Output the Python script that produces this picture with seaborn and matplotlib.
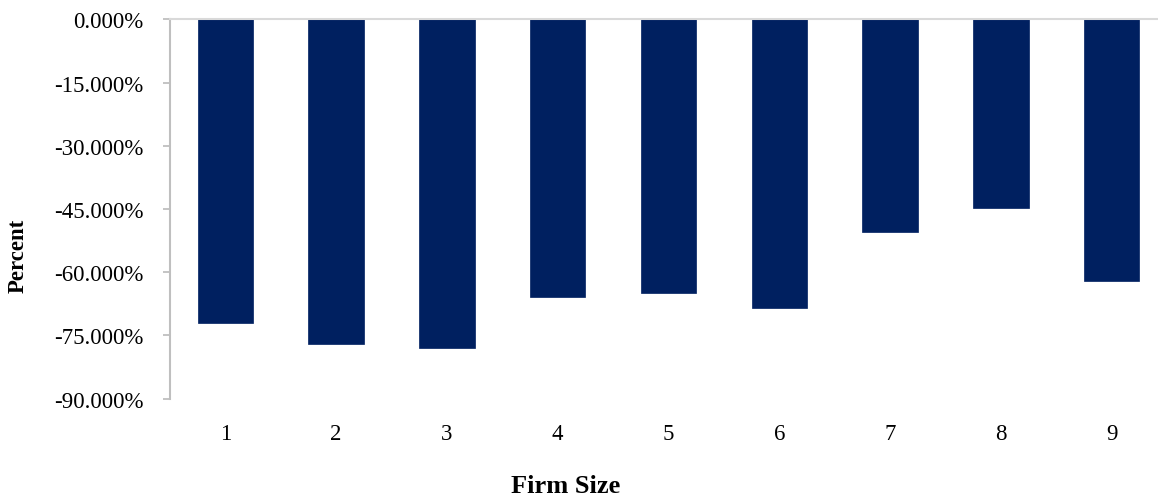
import matplotlib
matplotlib.use("Agg")
import matplotlib.pyplot as plt
import seaborn as sns
import pandas as pd
from matplotlib.ticker import FuncFormatter

# Mean percentage change by firm-size group
firm_size = ["1", "2", "3", "4", "5", "6", "7", "8", "9"]
pct_change = [-72.1, -77.1, -78.0, -65.9, -64.9, -68.6, -50.6, -44.7, -62.1]
y_ticks = [0, -15, -30, -45, -60, -75, -90]

df = pd.DataFrame({"Firm Size": firm_size, "Percent": pct_change})

sns.set_theme(style="white")
plt.rcParams["font.family"] = ["Liberation Serif", "DejaVu Serif"]

W, H = 1158, 502
fig = plt.figure(figsize=(W / 100, H / 100), dpi=100)
ax = fig.add_axes([170 / W, 1 - 399.5 / H, (1167 - 170) / W, (399.5 - 20.3) / H])

sns.barplot(data=df, x="Firm Size", y="Percent", color="#002060",
            width=0.5, saturation=1, ax=ax, edgecolor="#002060", linewidth=0.5)

ax.set_ylim(-90, 0)
ax.set_xlim(-0.5, len(firm_size) - 0.5)
ax.set_yticks(y_ticks)
ax.yaxis.set_major_formatter(FuncFormatter(lambda v, p: f"{v:.3f}%"))

for side in ["right", "bottom"]:
    ax.spines[side].set_visible(False)
ax.spines["top"].set_color("#d9d9d9")
ax.spines["top"].set_linewidth(1.5)
ax.spines["left"].set_color("#bfbfbf")
ax.spines["left"].set_linewidth(1.5)

ax.tick_params(axis="y", direction="out", length=5, width=1.3, color="#bfbfbf",
               pad=14, labelsize=16.5, labelcolor="black", left=True)
ax.tick_params(axis="x", length=0, pad=18, labelsize=16.5, labelcolor="black")

ax.set_xlabel("")
ax.set_ylabel("")
fig.text(566 / W, 1 - 487 / H, "Firm Size", ha="center", va="center",
         fontsize=19, fontweight="bold", color="black")
fig.text(18 / W, 1 - 256 / H, "Percent", ha="center", va="center",
         rotation=90, fontsize=16.4, fontweight="bold", color="black")

fig.savefig("out.png", dpi=100, facecolor="white")
